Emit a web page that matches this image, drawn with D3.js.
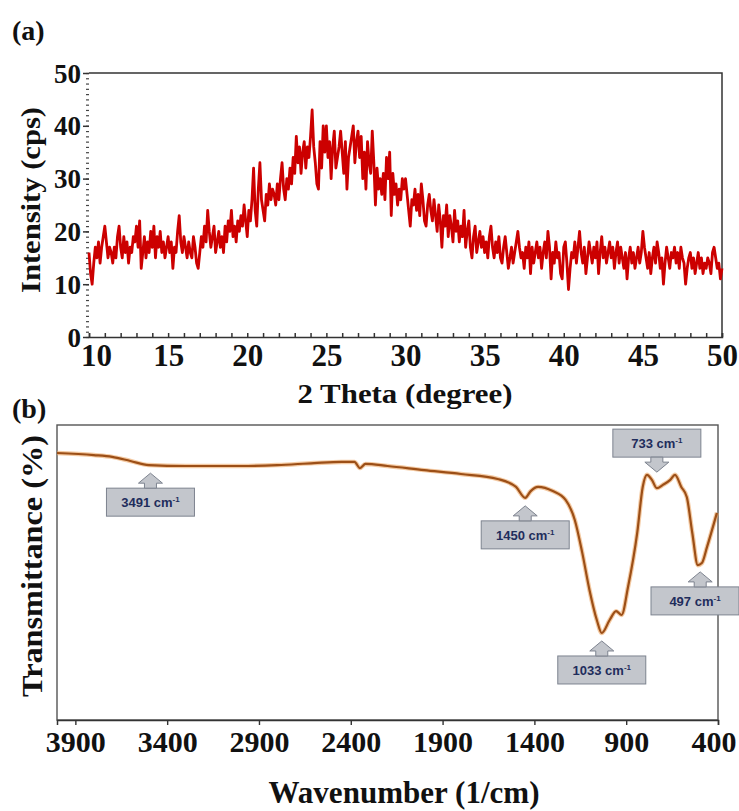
<!DOCTYPE html>
<html>
<head>
<meta charset="utf-8">
<script src="https://cdn.jsdelivr.net/npm/d3@7"></script>
<style>
  body { margin: 0; background: #fff; }
  svg { display: block; }
  .lbl { font-family: "Liberation Serif", "Times New Roman", serif; font-weight: bold; fill: #111; }
  .note { font-family: "Liberation Sans", Arial, sans-serif; font-weight: bold; fill: #1f2d5c; }
</style>
</head>
<body>
<svg id="chart" width="739" height="811"></svg>
<script>

//////////////////
// Data
//////////////////

// XRD: 2 theta from 10 to 50, step 0.1 (one row per degree)
var xrdStart = 10, xrdStep = 0.1;
var xrdIntensity = [
    16, 12, 10, 14, 17, 15, 18, 14, 17, 19,
    21, 18, 15, 17, 16, 14, 17, 15, 19, 21,
    17, 15, 19, 16, 18, 14, 17, 16, 19, 18,
    21, 17, 22, 13, 16, 19, 15, 18, 16, 20,
    17, 21, 15, 19, 17, 20, 16, 18, 15, 17,
    19, 16, 18, 13, 17, 16, 20, 23, 18, 16,
    19, 17, 15, 18, 16, 15, 19, 17, 14, 13,
    16, 19, 17, 21, 18, 24, 20, 17, 19, 21,
    16, 18, 20, 17, 19, 16, 21, 18, 22, 20,
    24, 19, 21, 18, 22, 20, 23, 21, 25, 22,
    19, 24, 22, 26, 32, 24, 21, 28, 33, 26,
    24, 22, 27, 25, 29, 26, 28, 27, 25, 29,
    26, 30, 33, 28, 26, 30, 28, 32, 29, 34,
    31, 38, 33, 36, 31, 35, 37, 32, 36, 34,
    38, 43, 36, 33, 29, 28, 37, 32, 40, 35,
    40, 34, 37, 30, 36, 39, 32, 34, 36, 39,
    35, 31, 37, 28, 34, 36, 38, 40, 33, 37,
    39, 34, 38, 30, 35, 28, 37, 33, 31, 39,
    33, 25, 32, 28, 30, 27, 31, 26, 34, 30,
    35, 23, 31, 27, 29, 25, 28, 26, 30, 28,
    30, 27, 24, 21, 26, 25, 28, 24, 27, 23,
    29, 26, 22, 21, 25, 27, 24, 22, 26, 23,
    20, 25, 22, 17, 23, 21, 25, 19, 23, 21,
    18, 24, 20, 22, 18, 21, 19, 24, 17, 20,
    22, 17, 15, 19, 21, 16, 18, 20, 17, 19,
    16, 18, 15, 19, 21, 17, 15, 18, 16, 19,
    15, 14, 17, 19, 16, 13, 15, 17, 14, 16,
    18, 20, 17, 15, 16, 13, 17, 15, 18, 12,
    17, 14, 16, 18, 15, 17, 13, 16, 18, 15,
    20, 17, 11, 16, 14, 18, 15, 16, 12, 11,
    17, 18, 14, 9, 13, 16, 15, 18, 14, 17,
    20, 16, 14, 17, 12, 15, 18, 16, 14, 17,
    15, 18, 12, 16, 19, 15, 17, 14, 16, 18,
    15, 17, 13, 16, 18, 14, 17, 15, 13, 16,
    11, 15, 17, 14, 16, 13, 15, 17, 14, 16,
    20, 17, 15, 13, 16, 12, 15, 17, 14, 18,
    16, 13, 15, 10, 14, 17, 15, 13, 16, 15,
    17, 14, 16, 13, 17, 15, 14, 10, 13, 15,
    16, 13, 15, 12, 14, 16, 13, 15, 12, 14,
    13, 15, 14, 12, 16, 17, 15, 13, 14, 11,
    13
];
var xrdXTicks = [10, 15, 20, 25, 30, 35, 40, 45, 50];
var xrdYTicks = [0, 10, 20, 30, 40, 50];

// FTIR: wavenumber (1/cm) and transmittance (arbitrary %)
var ftirWavenumber = [4000, 3800, 3700, 3600, 3500, 3300, 3000, 2800, 2600, 2450,
                      2380, 2350, 2320, 2200, 2000, 1800, 1600, 1500, 1450, 1420,
                      1380, 1300, 1230, 1180, 1140, 1100, 1060, 1033, 990, 955,
                      925, 890, 840, 810, 787, 760, 733, 700, 660, 634,
                      600, 570, 540, 510, 488, 460, 406];
var ftirTransmittance = [90.5, 89.8, 89.2, 87.8, 86.4, 86.1, 86.1, 86.4, 87.1, 87.5,
                         87.5, 85.4, 86.8, 86.1, 84.7, 83.4, 81.7, 79.0, 75.3, 77.6,
                         79.0, 77.6, 74.6, 67.8, 56.9, 44.1, 33.9, 29.5, 33.9, 36.9,
                         35.6, 45.1, 63.4, 79.0, 83.1, 81.4, 78.6, 79.7, 81.4, 83.1,
                         79.0, 75.6, 63.4, 52.5, 53.2, 58.6, 70.2];
var ftirTicks = [3900, 3400, 2900, 2400, 1900, 1400, 900, 400];

// peak callouts
var peakWavenumber = [3491, 1450, 1033, 733, 497];
var peakLabel = ["3491", "1450", "1033", "733", "497"];
var peakPointsDown = [false, false, false, true, false];


//////////////////
// Chart
//////////////////

var svg = d3.select("#chart");

// ---------- (a) XRD ----------
var xa = d3.scaleLinear().domain([10, 50]).range([89, 722]);
var ya = d3.scaleLinear().domain([0, 50]).range([337, 73]);

var ga = svg.append("g").attr("id", "xrd");

// top and right frame
ga.append("path")
    .attr("d", "M" + xa(10) + "," + ya(50) + "H" + xa(50) + "V" + ya(0))
    .attr("fill", "none").attr("stroke", "#333").attr("stroke-width", 1.5);

// minor ticks on the left give the dotted look
ga.append("g")
    .attr("transform", "translate(" + xa(10) + ",0)")
    .call(d3.axisLeft(ya).tickValues(d3.range(0, 51, 1)).tickSize(3).tickFormat(""))
    .call(function(g) {
        g.select(".domain").remove();
        g.selectAll("line").attr("stroke", "#444").attr("stroke-width", 1.2);
    });

var yAxisA = ga.append("g")
    .attr("transform", "translate(" + xa(10) + ",0)")
    .call(d3.axisLeft(ya).tickValues(xrdYTicks).tickSize(6).tickPadding(2));
yAxisA.select(".domain").remove();
yAxisA.selectAll("line").attr("stroke", "#333").attr("stroke-width", 1.5);
yAxisA.selectAll("text").attr("class", "lbl").style("font-size", "27px").attr("dy", "0.34em");

var xAxisA = ga.append("g")
    .attr("transform", "translate(0," + ya(0) + ")")
    .call(d3.axisBottom(xa).tickValues(d3.range(10, 51, 1)).tickSize(-4).tickPadding(7)
        .tickFormat(function(d) { return d % 5 === 0 ? d : ""; }));
xAxisA.select(".domain").attr("stroke", "#333").attr("stroke-width", 1.5);
xAxisA.selectAll("line").attr("stroke", "#333").attr("stroke-width", 1.5);
xAxisA.selectAll("text").attr("class", "lbl").style("font-size", "31px").attr("dy", "0.7em");
// first label sits a little right of its tick, clear of the "0"
xAxisA.selectAll(".tick").filter(function(d) { return d === 10; })
    .select("text").attr("x", 7);

var xrdLine = d3.line()
    .x(function(d, i) { return xa(xrdStart + i * xrdStep); })
    .y(function(d) { return ya(d); });

ga.append("path")
    .datum(xrdIntensity)
    .attr("d", xrdLine)
    .attr("fill", "none")
    .attr("stroke", "#cc0000")
    .attr("stroke-width", 2.8)
    .attr("stroke-linejoin", "round");

ga.append("text").attr("class", "lbl")
    .attr("x", 12).attr("y", 40).style("font-size", "28px").text("(a)");

ga.append("text").attr("class", "lbl")
    .attr("transform", "translate(40,200) rotate(-90)")
    .attr("text-anchor", "middle").style("font-size", "28px")
    .attr("textLength", 186).attr("lengthAdjust", "spacingAndGlyphs")
    .text("Intensity (cps)");

ga.append("text").attr("class", "lbl")
    .attr("x", 405).attr("y", 403).attr("text-anchor", "middle")
    .style("font-size", "28px")
    .attr("textLength", 215).attr("lengthAdjust", "spacingAndGlyphs")
    .text("2 Theta (degree)");


// ---------- (b) FTIR ----------
var xb = d3.scaleLinear().domain([4000, 400]).range([57, 718]);
var yb = d3.scaleLinear().domain([0, 100]).range([720, 425]);

var gb = svg.append("g").attr("id", "ftir");

gb.append("text").attr("class", "lbl")
    .attr("x", 12).attr("y", 418).style("font-size", "28px").text("(b)");

gb.append("rect")
    .attr("x", xb(4000)).attr("y", yb(100))
    .attr("width", xb(400) - xb(4000)).attr("height", yb(0) - yb(100))
    .attr("fill", "none").attr("stroke", "#555").attr("stroke-width", 1.4);

var xAxisB = gb.append("g")
    .attr("transform", "translate(0," + yb(0) + ")")
    .call(d3.axisBottom(xb).tickValues(ftirTicks).tickSize(5).tickPadding(6)
        .tickFormat(d3.format("d")));
xAxisB.select(".domain").attr("stroke", "#333").attr("stroke-width", 1.5);
xAxisB.selectAll("line").attr("stroke", "#333").attr("stroke-width", 1.4);
xAxisB.selectAll("text").attr("class", "lbl").style("font-size", "30px").attr("dy", "0.7em");
// keep the last label inside the page
xAxisB.selectAll(".tick").filter(function(d) { return d === 400; })
    .select("text").attr("text-anchor", "end").attr("x", 18);

var ftirPoints = ftirWavenumber.map(function(w, i) { return [w, ftirTransmittance[i]]; });
var ftirLine = d3.line()
    .x(function(d) { return xb(d[0]); })
    .y(function(d) { return yb(d[1]); })
    .curve(d3.curveMonotoneX);

// soft orange halo, then the brown trace
gb.append("path").datum(ftirPoints).attr("d", ftirLine)
    .attr("fill", "none").attr("stroke", "#eda766").attr("stroke-width", 4.5).attr("opacity", 0.6);
gb.append("path").datum(ftirPoints).attr("d", ftirLine)
    .attr("fill", "none").attr("stroke", "#9c4f17").attr("stroke-width", 2.2);

// callouts: box plus block arrow pointing at the band
function calloutPath(tx, ty, down) {
    var s = down ? -1 : 1;          // up arrows sit below the curve
    var hw = 12, sw = 6, hh = 10, sl = 5;
    return "M" + tx + "," + ty +
        "L" + (tx + hw) + "," + (ty + s * hh) +
        "L" + (tx + sw) + "," + (ty + s * hh) +
        "L" + (tx + sw) + "," + (ty + s * (hh + sl)) +
        "L" + (tx - sw) + "," + (ty + s * (hh + sl)) +
        "L" + (tx - sw) + "," + (ty + s * hh) +
        "L" + (tx - hw) + "," + (ty + s * hh) + "Z";
}

var curveAt = function(w) {
    var i = d3.bisector(function(d) { return -d; }).left(ftirWavenumber, -w);
    i = Math.max(1, Math.min(ftirWavenumber.length - 1, i));
    var w0 = ftirWavenumber[i - 1], w1 = ftirWavenumber[i];
    var t = (w - w0) / (w1 - w0);
    return ftirTransmittance[i - 1] + t * (ftirTransmittance[i] - ftirTransmittance[i - 1]);
};

peakWavenumber.forEach(function(w, i) {
    var down = peakPointsDown[i];
    var tx = xb(w);
    var ty = down ? yb(curveAt(w)) - 16 : yb(curveAt(w)) + 8;
    var bw = 88, bh = 28;
    var by = down ? ty - 15 - bh : ty + 15;
    var bx = Math.min(tx - bw / 2, 739 - bw);

    var g = gb.append("g").attr("class", "callout");
    g.append("rect")
        .attr("x", bx).attr("y", by).attr("width", bw).attr("height", bh)
        .attr("fill", "#c3c6cc").attr("stroke", "#7d838f").attr("stroke-width", 1);
    g.append("path")
        .attr("d", calloutPath(tx, ty, down))
        .attr("fill", "#c3c6cc").attr("stroke", "#7d838f").attr("stroke-width", 1);
    var t = g.append("text").attr("class", "note")
        .attr("x", bx + bw / 2).attr("y", by + bh / 2 + 5)
        .attr("text-anchor", "middle").style("font-size", "13px");
    t.append("tspan").text(peakLabel[i] + " cm");
    t.append("tspan").attr("dy", -5).style("font-size", "8px").text("-1");
});

gb.append("text").attr("class", "lbl")
    .attr("transform", "translate(42,566) rotate(-90)")
    .attr("text-anchor", "middle").style("font-size", "29px")
    .attr("textLength", 262).attr("lengthAdjust", "spacingAndGlyphs")
    .text("Transmittance (%)");

gb.append("text").attr("class", "lbl")
    .attr("x", 404).attr("y", 803).attr("text-anchor", "middle")
    .style("font-size", "31px")
    .attr("textLength", 271).attr("lengthAdjust", "spacingAndGlyphs")
    .text("Wavenumber (1/cm)");

</script>
</body>
</html>
